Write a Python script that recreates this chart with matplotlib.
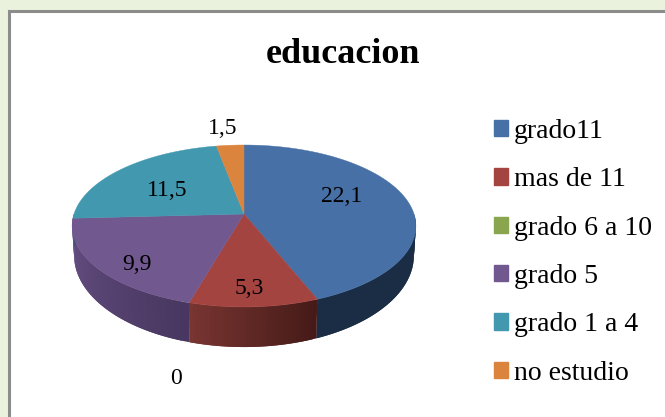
import numpy as np
import matplotlib
matplotlib.use("Agg")
import matplotlib.pyplot as plt
from matplotlib.patches import Polygon, Rectangle, Patch

title = "educacion"
categories = ["grado11", "mas de 11", "grado 6 a 10", "grado 5", "grado 1 a 4", "no estudio"]
values = [22.1, 5.3, 0, 9.9, 11.5, 1.5]
value_labels = ["22,1", "5,3", "0", "9,9", "11,5", "1,5"]
colors = ["#4670A6", "#A44441", "#89A54E", "#71588F", "#4198AF", "#DB843D"]
side_left = ["#1A2D45", "#7A3632", "#4F6030", "#6A5288", "#2A6070", "#8A5020"]
side_right = ["#1A2D45", "#451A18", "#4F6030", "#483760", "#2A6070", "#8A5020"]
label_pos = [(342, 196), (249, 289), (176, 378), (137, 264), (167, 190), (223, 129)]

W, H = 665, 417
plt.rcParams["font.family"] = ["Liberation Serif", "DejaVu Serif"]
fig = plt.figure(figsize=(W / 100, H / 100), dpi=100, facecolor="#EAF1DD")
ax = fig.add_axes([0, 0, 1, 1])
ax.set_xlim(0, W)
ax.set_ylim(H, 0)
ax.axis("off")

ax.add_patch(Rectangle((9, 11), W + 20, H + 20, fc="white", ec="#8C8C8C", lw=2.2))

CX, CY, RX, RY, K = 244, 214, 170, 79.2, 0.148
CY2, RX2, RY2 = 242, 168, 89.5


def project(theta, cy, rx, ry):
    u, v = np.sin(theta), np.cos(theta)
    w = 1 + K * v
    return CX + rx * u / w, cy - ry * v / w


def hex_rgb(h):
    return np.array(matplotlib.colors.to_rgb(h))


edges = np.cumsum([0] + values) / sum(values) * 2 * np.pi
# side walls, shaded from the left colour to the right colour of each slice
for i in range(len(values)):
    a0, a1 = edges[i], edges[i + 1]
    lo, hi = max(a0, np.pi / 2), min(a1, 3 * np.pi / 2)
    if hi <= lo:
        continue
    ts = np.linspace(lo, hi, 31)
    for j in range(len(ts) - 1):
        # each strip overlaps the next one so no seams show
        t = np.linspace(ts[j], ts[min(j + 2, len(ts) - 1)], 8)
        x1, y1 = project(t, CY, RX, RY)
        x2, y2 = project(t, CY2, RX2, RY2)
        f = (ts[j] - lo) / (hi - lo)
        col = hex_rgb(side_right[i]) * (1 - f) + hex_rgb(side_left[i]) * f
        pts = np.column_stack([np.r_[x1, x2[::-1]], np.r_[y1, y2[::-1]]])
        ax.add_patch(Polygon(pts, fc=col, ec="none", lw=0))

# top faces
for i in range(len(values)):
    a0, a1 = edges[i], edges[i + 1]
    if a1 <= a0:
        continue
    ts = np.linspace(a0, a1, 120)
    x, y = project(ts, CY, RX, RY)
    pts = np.column_stack([np.r_[CX, x], np.r_[CY, y]])
    ax.add_patch(Polygon(pts, fc=colors[i], ec=colors[i], lw=0.3))

for txt, (x, y) in zip(value_labels, label_pos):
    ax.text(x, y, txt, ha="center", va="center", fontsize=17, color="black")

ax.text(343, 54, title, ha="center", va="center", fontsize=26, fontweight="bold", color="black")

handles = [Patch(fc=c, ec=c) for c in colors]
fig.legend(handles, categories, loc="upper left", bbox_to_anchor=(489 / W, 1 - 114 / H),
           bbox_transform=fig.transFigure, frameon=False, fontsize=20,
           handlelength=0.52, handleheight=0.52, handletextpad=0.2,
           labelspacing=0.84, borderpad=0.18, borderaxespad=0)

fig.savefig("out.png", dpi=100, facecolor=fig.get_facecolor())
